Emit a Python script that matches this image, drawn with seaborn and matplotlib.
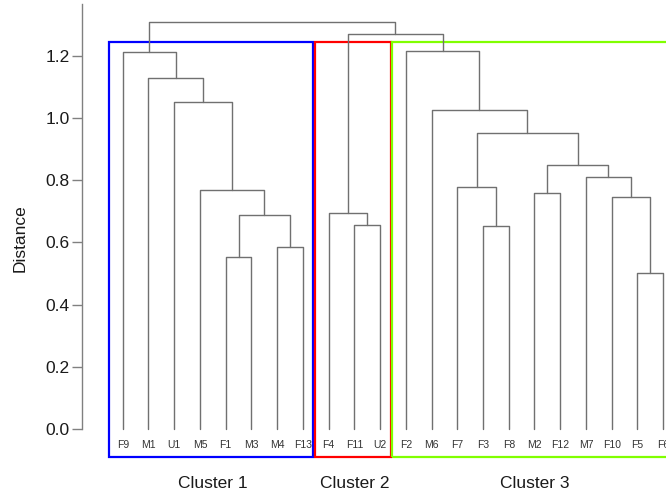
import numpy as np
import pandas as pd
import matplotlib
matplotlib.use("Agg")
import matplotlib.pyplot as plt
from matplotlib.patches import Rectangle
import seaborn as sns

# Leaves in dendrogram order
leaves = ["F9", "M1", "U1", "M5", "F1", "M3", "M4", "F13",
          "F4", "F11", "U2",
          "F2", "M6", "F7", "F3", "F8", "M2", "F12", "M7", "F10", "F5", "F6"]

# Merges (scipy-like): leaf ids 0..21, new node ids start at 22
merge_left = [4, 6, 22, 3, 2, 1, 0, 9, 8, 20, 14, 19, 16, 13, 18, 34, 35, 12, 11, 30, 28]
merge_right = [5, 7, 23, 24, 25, 26, 27, 10, 29, 21, 15, 31, 17, 32, 33, 36, 37, 38, 39, 40, 41]
merge_height = [0.554, 0.587, 0.688, 0.769, 1.052, 1.128, 1.214,
                0.656, 0.696,
                0.501, 0.653, 0.747, 0.760, 0.780, 0.810, 0.849, 0.952, 1.027, 1.216,
                1.272, 1.310]

cluster_names = ["Cluster 1", "Cluster 2", "Cluster 3"]
cluster_first = [0, 8, 11]
cluster_last = [7, 10, 21]
cluster_colors = ["#0000ff", "#ff0000", "#80ff00"]

# build link segments from the tree
n = len(leaves)
node_x = [float(i) for i in range(n)]
node_y = [0.0] * n
rows = []
for k, (a, b, h) in enumerate(zip(merge_left, merge_right, merge_height)):
    xa, ya = node_x[a], node_y[a]
    xb, yb = node_x[b], node_y[b]
    for px, py in [(xa, ya), (xa, h), (xb, h), (xb, yb)]:
        rows.append({"x": px, "y": py, "link": k})
    node_x.append((xa + xb) / 2)
    node_y.append(h)
df = pd.DataFrame(rows)

sns.set_theme(style="white")
plt.rcParams['font.family'] = ['Liberation Sans', 'DejaVu Sans']

fig = plt.figure(figsize=(6.66, 4.96), dpi=100)
ax = fig.add_axes([0, 0, 1, 1])

sns.lineplot(data=df, x="x", y="y", units="link", estimator=None, sort=False,
             color="#707070", lw=1.0, ax=ax, legend=False)

ax.set_xlim(-4.77, 21.11)
ax.set_ylim(-0.2156, 1.380)

for s in ["top", "right", "bottom"]:
    ax.spines[s].set_visible(False)
ax.spines["left"].set_position(("data", -1.58))
ax.spines["left"].set_bounds(0, 1.367)
ax.spines["left"].set_color("#808080")
ax.spines["left"].set_linewidth(1.0)

ax.set_xticks([])
ax.set_yticks([0.0, 0.2, 0.4, 0.6, 0.8, 1.0, 1.2])
ax.set_yticklabels(["0.0", "0.2", "0.4", "0.6", "0.8", "1.0", "1.2"])
ax.tick_params(axis="y", left=True, length=7, width=1, color="#808080",
               labelsize=12.5, labelcolor="#1a1a1a", pad=2)
ax.set_xlabel("")
ax.set_ylabel("")
ax.text(-3.99, 0.615, "Distance", rotation=90, ha="center", va="center",
        fontsize=12.5, color="#1a1a1a")

# leaf labels
for i, lab in enumerate(leaves):
    ax.text(i, -0.05, lab, ha="center", va="center", fontsize=7.5, color="#333333")

# cluster boxes and labels
for name, first, last, col in zip(cluster_names, cluster_first, cluster_last, cluster_colors):
    x0 = first - 0.52
    x1 = last + 0.41
    ax.add_patch(Rectangle((x0, -0.091), x1 - x0, 1.244 + 0.091, fill=False,
                           edgecolor=col, lw=1.6))
    ax.text((first + last) / 2, -0.174, name, ha="center", va="center",
            fontsize=12.5, color="#1a1a1a")

fig.savefig("out.png", dpi=100)
